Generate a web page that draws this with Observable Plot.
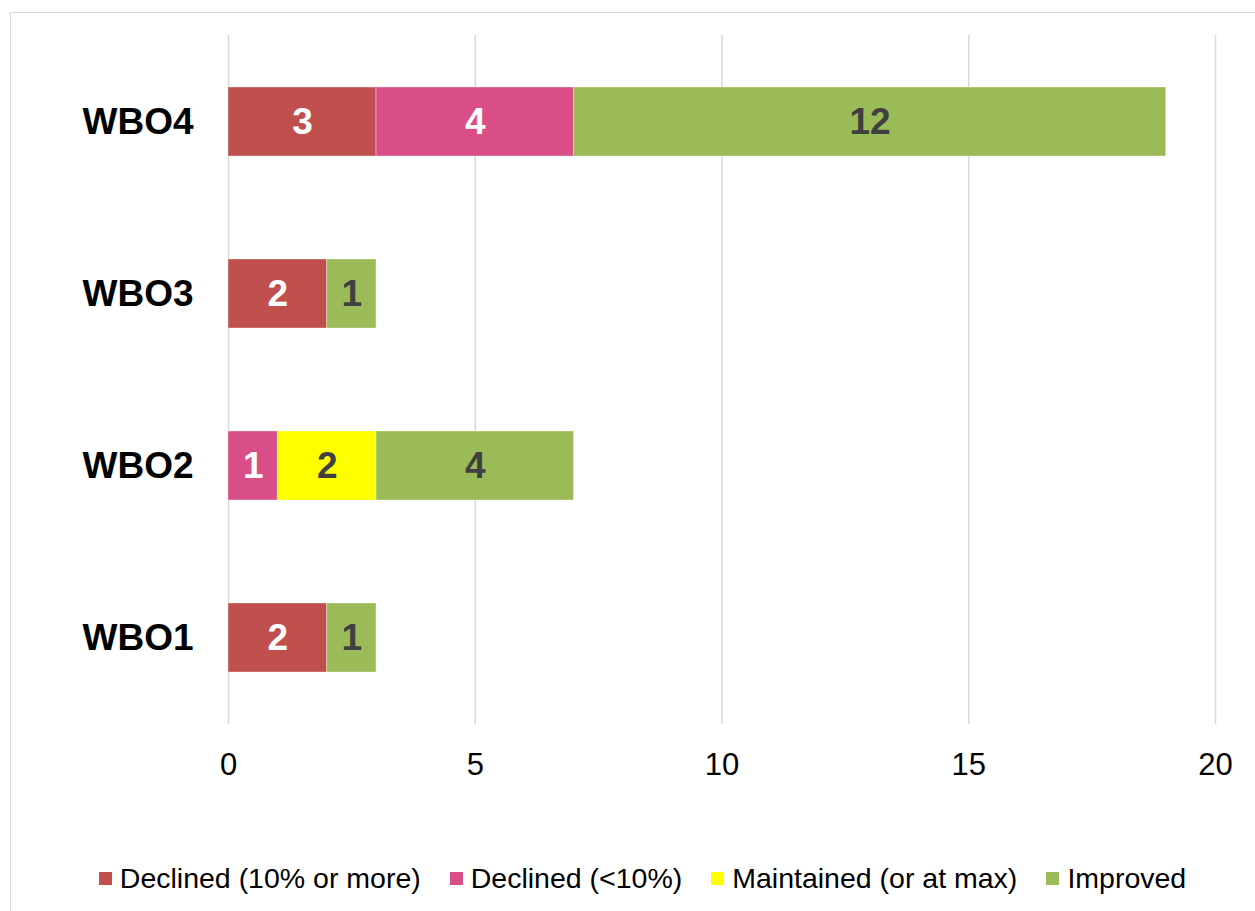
<!DOCTYPE html>
<html>
<head>
<meta charset="utf-8">
<script src="https://cdn.jsdelivr.net/npm/d3@7"></script>
<script src="https://cdn.jsdelivr.net/npm/@observablehq/plot@0.6"></script>
<style>
  html, body { margin: 0; padding: 0; background: #fff; width: 1255px; height: 911px; overflow: hidden; }
  body { position: relative; font-family: "Liberation Sans", Arial, sans-serif; }
  #frame { position: absolute; left: 10px; top: 12px; width: 1300px; height: 1000px; border-left: 1.5px solid #d9d9d9; border-top: 1.5px solid #d9d9d9; box-sizing: border-box; }
  #chart { position: absolute; left: 0; top: 0; }
  #legend { position: absolute; left: 0; width: 1255px; top: 862px; display: flex; justify-content: center; align-items: center; font-size: 28.5px; color: #000; padding-left: 30px; box-sizing: border-box; }
  .item { display: flex; align-items: center; margin-right: 29px; white-space: nowrap; }
  .item:last-child { margin-right: 0; }
  .sw { width: 13px; height: 13px; margin-right: 8px; }
</style>
</head>
<body>
<div id="frame"></div>
<div id="chart"></div>
<div id="legend"></div>
<script>
const categories = ["WBO4", "WBO3", "WBO2", "WBO1"];
const seriesNames = ["Declined (10% or more)", "Declined (<10%)", "Maintained (or at max)", "Improved"];
const seriesColors = ["#C0504D", "#D94E87", "#FFFF00", "#9BBB59"];
const labelColors = ["#ffffff", "#ffffff", "#404040", "#404040"];
// values per category, in the order of `categories`
const declined10 = [3, 2, 0, 2];
const declinedLt10 = [4, 0, 1, 0];
const maintained = [0, 0, 2, 0];
const improved = [12, 1, 4, 1];
const xTicks = [0, 5, 10, 15, 20];

const seriesValues = [declined10, declinedLt10, maintained, improved];
const data = [];
categories.forEach((cat, i) => {
  seriesNames.forEach((s, j) => {
    const v = seriesValues[j][i];
    if (v > 0) data.push({cat, series: s, value: v, labelColor: labelColors[j]});
  });
});

const chart = Plot.plot({
  width: 1255,
  height: 800,
  marginLeft: 228,
  marginRight: 40,
  marginTop: 35,
  marginBottom: 76,
  style: {fontFamily: '"Liberation Sans", Arial, sans-serif', background: "transparent", overflow: "visible"},
  x: {domain: [0, 20], ticks: xTicks},
  y: {domain: categories, paddingInner: 0.6, paddingOuter: 0.3},
  color: {domain: seriesNames, range: seriesColors},
  marks: [
    Plot.ruleX(xTicks, {stroke: "#d9d9d9", strokeWidth: 1.5}),
    Plot.barX(data, Plot.stackX({y: "cat", x: "value", fill: "series", stroke: "#ffffff", strokeOpacity: 0.35, strokeWidth: 1})),
    Plot.text(data, Plot.stackX({y: "cat", x: "value", text: d => String(d.value), fill: "labelColor", fontSize: 37, fontWeight: "bold"})),
    Plot.axisX({ticks: xTicks, tickSize: 0, tickPadding: 28, fontSize: 31, color: "#000", label: null}),
    Plot.axisY({tickSize: 0, tickPadding: 35, fontSize: 37, fontWeight: "bold", color: "#000", label: null})
  ]
});
document.getElementById("chart").appendChild(chart);

const legend = document.getElementById("legend");
seriesNames.forEach((s, j) => {
  const item = document.createElement("div");
  item.className = "item";
  const sw = document.createElement("div");
  sw.className = "sw";
  sw.style.background = seriesColors[j];
  const t = document.createElement("span");
  t.textContent = s;
  item.appendChild(sw);
  item.appendChild(t);
  legend.appendChild(item);
});
</script>
</body>
</html>
